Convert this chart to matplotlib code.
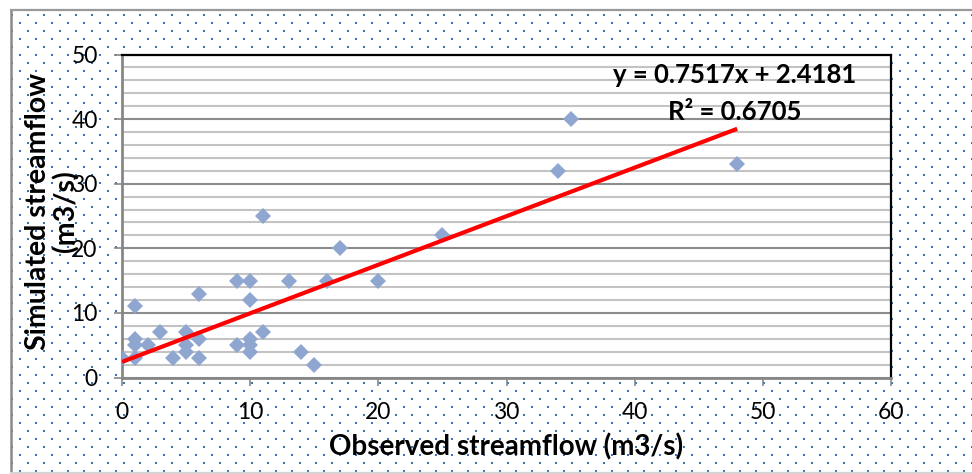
import numpy as np
import matplotlib
matplotlib.use("Agg")
import matplotlib.pyplot as plt
from matplotlib.lines import Line2D
from matplotlib.ticker import MultipleLocator

# ---- data ----
observed = [0, 1, 1, 1, 1, 2, 3, 4, 5, 5, 5, 6, 6, 6, 9, 9, 10, 10, 10, 10, 10,
            11, 11, 13, 14, 15, 16, 17, 20, 25, 34, 35, 48]
simulated = [3, 11, 6, 5, 3, 5, 7, 3, 7, 5, 4, 13, 6, 3, 15, 5, 15, 12, 6, 5, 4,
             25, 7, 15, 4, 2, 15, 20, 15, 22, 32, 40, 33]
slope = 0.7517
intercept = 2.4181
r_squared = 0.6705
x_ticks = [0, 10, 20, 30, 40, 50, 60]
y_ticks = [0, 10, 20, 30, 40, 50]
x_label = "Observed streamflow (m3/s)"
y_label = "Simulated streamflow\n(m3/s)"

W, H = 972, 474
fig = plt.figure(figsize=(W / 100, H / 100), dpi=100)
fig.patch.set_facecolor("white")

# ---- background dotted pattern (chart area fill) ----
bg = fig.add_axes([0, 0, 1, 1], zorder=0)
bg.set_xlim(0, W)
bg.set_ylim(H, 0)
bg.axis("off")
rows = np.arange(14.7, H - 2, 8.0)
px, py = [], []
for i, yy in enumerate(rows):
    xs = np.arange(12 + (8 if i % 2 else 0), W + 1, 16.0)
    px.extend(xs)
    py.extend([yy] * len(xs))
bg.scatter(px, py, marker="s", s=2.2, color="#3F72B4", linewidths=0)
# chart area border (left, top, bottom)
bg.add_line(Line2D([11, 11], [9.5, 473], color="#8A8A8A", linewidth=1.8))
bg.add_line(Line2D([11, W], [9.5, 9.5], color="#9A9A9A", linewidth=1.6))
bg.add_line(Line2D([11, W], [473, 473], color="#D4D4D4", linewidth=1.6))

# ---- plot area ----
left, right, top, bottom = 122, 891, 54.5, 377.5
ax = fig.add_axes([left / W, (H - bottom) / H, (right - left) / W, (bottom - top) / H], zorder=1)
ax.set_facecolor("white")
ax.set_xlim(0, 60)
ax.set_ylim(0, 50)
ax.set_xticks(x_ticks)
ax.set_yticks(y_ticks)
ax.yaxis.set_minor_locator(MultipleLocator(2))

ax.grid(axis="y", which="major", color="#8C8C8C", linewidth=1.5, zorder=0)
ax.grid(axis="y", which="minor", color="#C3C3C3", linewidth=1.5, zorder=0)
ax.set_axisbelow(True)

for s in ["left", "bottom"]:
    ax.spines[s].set_color("#878787")
    ax.spines[s].set_linewidth(2)
for s in ["top", "right"]:
    ax.spines[s].set_color("black")
    ax.spines[s].set_linewidth(1.6)

ax.tick_params(axis="both", which="major", direction="out", length=5.5,
               width=1.2, color="#878787", labelsize=16.5)
ax.tick_params(axis="y", which="minor", length=0)
ax.tick_params(axis="x", pad=12)
ax.tick_params(axis="y", pad=12)
for lab in ax.get_xticklabels() + ax.get_yticklabels():
    lab.set_fontfamily("Lato")

ax.plot(observed, simulated, linestyle="none", marker="D", markersize=8,
        color="#8EA6D0", markeredgewidth=0, zorder=3)

xfit = np.array([min(observed), max(observed)])
ax.plot(xfit, slope * xfit + intercept, color="#FF0000", linewidth=3, zorder=4,
        solid_capstyle="butt")

ax.text(47.8, 46.8, f"y = {slope:.4f}x + {intercept:.4f}", ha="center", va="center",
        fontsize=18.5, fontweight="bold", fontfamily="Lato", zorder=5)
ax.text(47.8, 41.1, f"R² = {r_squared:.4f}", ha="center", va="center",
        fontsize=18.5, fontweight="bold", fontfamily="Lato", zorder=5)

ax.set_xlabel(x_label, fontsize=20, fontweight="bold", fontfamily="Lato")
ax.xaxis.set_label_coords(0.5, -(447 - bottom) / (bottom - top), transform=ax.transAxes)
ax.xaxis.label.set_va("center")
ax.set_ylabel(y_label, fontsize=20.5, fontweight="bold", fontfamily="Lato", linespacing=1.08)
ax.yaxis.set_label_coords(-(left - 52) / (right - left), (bottom - 211) / (bottom - top))
ax.yaxis.label.set_va("center")
ax.yaxis.label.set_ha("center")

fig.savefig("out.png", dpi=100)
